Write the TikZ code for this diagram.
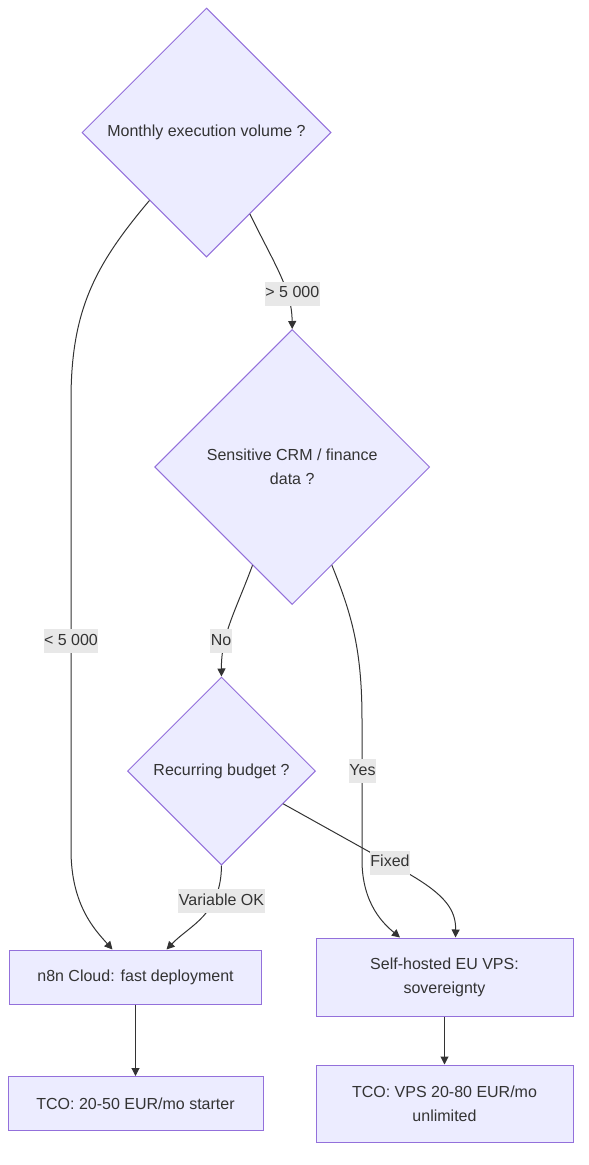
\documentclass[tikz,border=0pt]{standalone}
\usepackage{fontspec}
\setmainfont{Liberation Sans}
\usetikzlibrary{shapes.geometric,arrows.meta}
\definecolor{nodefill}{HTML}{ECECFF}
\definecolor{nodeline}{HTML}{9370DB}
\definecolor{edgecol}{HTML}{333333}
\definecolor{txt}{HTML}{333333}
\definecolor{lblbg}{HTML}{E8E8E8}
\begin{document}
\begin{tikzpicture}[x=1pt,y=-1pt,
  every node/.style={font=\fontsize{16}{24}\selectfont, text=txt},
  decision/.style={diamond, draw=nodeline, fill=nodefill, line width=1pt, inner sep=0pt, aspect=1, align=center},
  procbox/.style={rectangle, draw=nodeline, fill=nodefill, line width=1pt, inner sep=0pt, align=center},
  conn/.style={draw=edgecol, line width=1pt, -{Triangle[length=8pt,width=8pt]}},
  elabel/.style={fill=lblbg, inner xsep=0.5pt, inner ysep=0pt, minimum height=24pt, text height=12pt, text depth=3.5pt}
]
\useasboundingbox (0,0) rectangle (589,1165);
% decisions
\node[decision, minimum width=249pt, minimum height=249pt] (A) at (206.5,132.5) {Monthly execution volume ?};
\node[decision, minimum width=275pt, minimum height=275pt] (B) at (292.2,467) {Sensitive CRM / finance\\data ?};
\node[decision, minimum width=188pt, minimum height=188pt] (C) at (221.5,771) {Recurring budget ?};
% boxes
\node[procbox, minimum width=252pt, minimum height=54pt] (D) at (135.5,977) {n8n Cloud: fast deployment};
\node[procbox, minimum width=257pt, minimum height=78pt] (E) at (444.5,977) {Self-hosted EU VPS:\\sovereignty};
\node[procbox, minimum width=255pt, minimum height=54pt] (F) at (135.5,1103.5) {TCO: 20-50 EUR/mo starter};
\node[procbox, minimum width=257pt, minimum height=77pt] (G) at (444.5,1103.5) {TCO: VPS 20-80 EUR/mo\\unlimited};
% connectors
\draw[conn] (A.-130) .. controls (95,265) and (71,310) .. (71,400) -- (71,850) .. controls (71,905) and (95,930) .. ([xshift=-23pt]D.north);
\draw[conn] (A.-62) .. controls (275,265) and (292,290) .. (B.north);
\draw[conn] (B.-112) .. controls (236,610) and (221,635) .. (C.north);
\draw[conn] (B.-68) .. controls (352,615) and (362,650) .. (362,720) -- (362,860) .. controls (362,905) and (385,925) .. ([xshift=-44.5pt]E.north);
\draw[conn] (C.south) .. controls (221,915) and (190,925) .. ([xshift=31pt]D.north);
\draw[conn] (C.-28) -- (410,874.5) .. controls (445,895) and (456,910) .. ([xshift=11pt]E.north);
\draw[conn] (D.south) -- (F.north);
\draw[conn] (E.south) -- (G.north);
% labels
\node[elabel] (l1) at (71,641) {< 5 000};
\node[elabel] (l2) at (292.3,293.5) {> 5 000};
\node[elabel] (l3) at (221,641) {No};
\node[elabel] (l4) at (362.5,771) {Yes};
\node[elabel] (l5) at (221.5,901) {Variable OK};
\node[elabel] (l6) at (390,862.5) {Fixed};
\end{tikzpicture}
\end{document}
